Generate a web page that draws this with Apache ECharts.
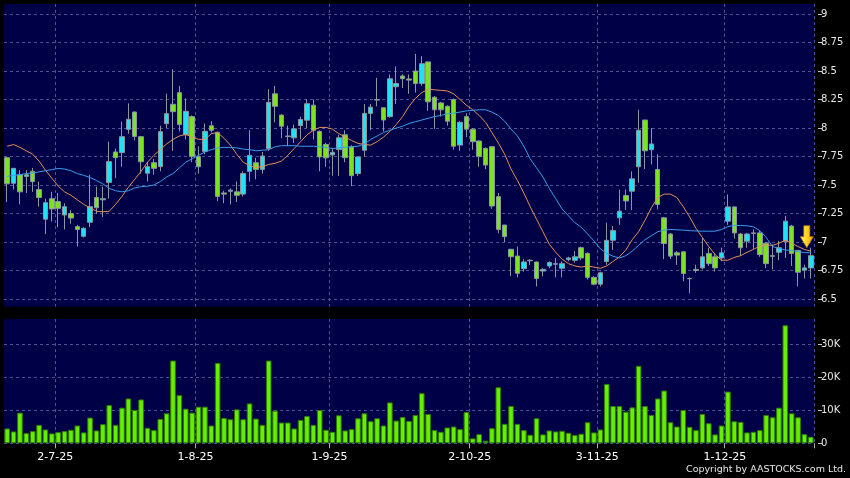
<!DOCTYPE html>
<html><head><meta charset="utf-8">
<script src="https://cdn.jsdelivr.net/npm/echarts@6/dist/echarts.min.js"></script>
<style>html,body{margin:0;padding:0;background:#000;}#c{width:850px;height:478px;}</style>
</head><body><div id="c"></div>
<script>
const dates = ['19-6-25','20-6-25','23-6-25','24-6-25','25-6-25','26-6-25','27-6-25','30-6-25',
'2-7-25','3-7-25','4-7-25','7-7-25','8-7-25','9-7-25','10-7-25','11-7-25','14-7-25','15-7-25','16-7-25','17-7-25','18-7-25','21-7-25','22-7-25','23-7-25','24-7-25','25-7-25','28-7-25','29-7-25','30-7-25','31-7-25',
'1-8-25','4-8-25','5-8-25','6-8-25','7-8-25','8-8-25','11-8-25','12-8-25','13-8-25','14-8-25','15-8-25','18-8-25','19-8-25','20-8-25','21-8-25','22-8-25','25-8-25','26-8-25','27-8-25','28-8-25','29-8-25',
'1-9-25','2-9-25','3-9-25','4-9-25','5-9-25','8-9-25','9-9-25','10-9-25','11-9-25','12-9-25','15-9-25','16-9-25','17-9-25','18-9-25','19-9-25','22-9-25','23-9-25','24-9-25','25-9-25','26-9-25','29-9-25','30-9-25',
'2-10-25','3-10-25','6-10-25','8-10-25','9-10-25','10-10-25','13-10-25','14-10-25','15-10-25','16-10-25','17-10-25','20-10-25','21-10-25','22-10-25','23-10-25','24-10-25','27-10-25','28-10-25','30-10-25','31-10-25',
'3-11-25','4-11-25','5-11-25','6-11-25','7-11-25','10-11-25','11-11-25','12-11-25','13-11-25','14-11-25','17-11-25','18-11-25','19-11-25','20-11-25','21-11-25','24-11-25','25-11-25','26-11-25','27-11-25','28-11-25',
'1-12-25','2-12-25','3-12-25','4-12-25','5-12-25','8-12-25','9-12-25','10-12-25','11-12-25','12-12-25','15-12-25','16-12-25','17-12-25','18-12-25'];

const tickLabels = ['2-7-25','1-8-25','1-9-25','2-10-25','3-11-25','1-12-25'];
const priceTicks = [6.5,6.75,7,7.25,7.5,7.75,8,8.25,8.5,8.75,9];
const volTicks = [0,10,20,30];

const opens = [7.74,7.515,7.59,7.575,7.62,7.46,7.20,7.38,7.355,7.237,7.25,7.135,7.05,7.173,7.39,7.37,7.523,7.79,7.784,7.988,
8.14,7.924,7.603,7.696,7.661,8.038,8.208,8.31,7.94,8.10,7.749,7.795,8.02,7.962,7.43,7.445,7.44,7.42,7.62,7.695,
7.637,7.82,8.30,8.113,7.93,7.914,8.022,8.069,8.20,7.97,7.855,7.764,7.811,7.94,7.834,7.60,7.805,8.128,8.25,8.177,
8.10,8.362,8.456,8.43,8.50,8.39,8.58,8.27,8.22,8.19,8.25,7.85,8.10,7.99,7.886,7.82,7.836,7.398,7.149,6.936,
6.877,6.766,6.84,6.825,6.745,6.79,6.805,6.77,6.845,6.84,6.95,6.90,6.69,6.63,6.83,7.015,7.212,7.408,7.446,7.66,
8.07,7.81,7.636,7.212,7.07,6.905,6.914,6.68,6.76,6.773,6.90,6.87,6.86,7.183,7.308,7.07,7.007,7.08,7.08,6.99,
6.88,6.91,7.007,7.14,6.926,6.753,6.773];
const closes = [7.51,7.646,7.44,7.59,7.53,7.39,7.345,7.29,7.295,7.31,7.21,7.11,7.12,7.31,7.30,7.38,7.705,7.74,7.924,8.076,
7.925,7.704,7.661,7.646,7.968,8.126,8.143,8.03,8.146,7.749,7.66,7.971,7.98,7.40,7.42,7.455,7.41,7.60,7.76,7.637,
7.754,8.225,8.19,8.016,7.925,7.993,8.075,8.213,7.98,7.746,7.738,7.787,7.914,7.74,7.582,7.746,8.128,8.183,8.245,8.07,
8.432,8.39,8.433,8.42,8.39,8.564,8.23,8.16,8.16,8.06,7.84,8.05,7.99,7.88,7.749,7.675,7.316,7.11,7.047,6.871,
6.725,6.825,6.835,6.68,6.76,6.82,6.81,6.81,6.86,6.87,6.86,6.69,6.63,6.73,7.015,7.10,7.27,7.36,7.554,7.98,
7.80,7.86,7.33,6.987,6.876,6.885,6.724,6.678,6.75,6.87,6.81,6.773,6.905,7.308,7.08,6.95,7.07,7.075,6.89,6.81,
6.875,6.95,7.183,6.90,6.735,6.773,6.88];
const lows = [7.35,7.46,7.33,7.43,7.44,7.31,7.07,7.18,7.13,7.11,7.16,6.96,7.04,7.13,7.245,7.22,7.38,7.56,7.66,7.95,
7.89,7.60,7.53,7.59,7.62,8.0,7.80,7.97,7.90,7.70,7.60,7.77,7.96,7.36,7.34,7.33,7.35,7.40,7.53,7.55,
7.60,7.80,8.05,7.91,7.84,7.87,7.90,8.00,7.90,7.62,7.66,7.58,7.58,7.70,7.49,7.58,7.75,7.98,8.19,7.97,
8.09,8.21,8.35,8.30,8.31,8.37,8.15,7.99,8.10,8.02,7.81,7.80,7.92,7.81,7.66,7.64,7.29,7.076,7.0,6.70,
6.69,6.74,6.80,6.61,6.70,6.77,6.69,6.69,6.83,6.82,6.84,6.67,6.62,6.61,6.80,6.93,7.15,7.28,7.28,7.52,
7.64,7.68,7.285,6.85,6.85,6.80,6.656,6.55,6.73,6.76,6.79,6.74,6.83,7.15,7.03,6.876,6.95,6.94,6.87,6.77,
6.76,6.84,6.86,6.79,6.61,6.68,6.68];
const highs = [7.75,7.65,7.63,7.63,7.65,7.53,7.38,7.44,7.43,7.34,7.28,7.15,7.13,7.59,7.485,7.485,7.88,7.82,8.056,8.216,
8.145,7.93,7.70,7.73,8.02,8.30,8.515,8.37,8.26,8.11,7.84,8.04,8.06,7.97,7.45,7.47,7.53,7.62,7.98,7.74,
7.79,8.34,8.37,8.12,8.02,8.03,8.10,8.25,8.25,7.98,7.87,7.82,7.94,7.98,7.85,7.75,8.21,8.21,8.44,8.18,
8.47,8.54,8.47,8.47,8.65,8.63,8.58,8.28,8.23,8.20,8.26,8.06,8.13,8.00,7.89,7.83,7.84,7.43,7.15,6.94,
6.96,6.85,6.85,6.83,6.77,6.83,6.86,6.83,6.87,6.92,6.96,6.91,6.70,6.74,7.17,7.14,7.46,7.46,7.62,8.16,
8.07,8.0,7.77,7.22,7.08,6.92,6.92,6.69,6.80,7.04,6.95,6.90,6.95,7.417,7.31,7.08,7.08,7.11,7.10,7.00,
6.98,7.01,7.23,7.15,6.93,6.80,6.95];
const ma10 = [7.84,7.855,7.83,7.80,7.77,7.71,7.63,7.56,7.49,7.44,7.41,7.37,7.33,7.30,7.27,7.265,7.27,7.33,7.40,7.48,
7.55,7.62,7.70,7.76,7.81,7.86,7.90,7.93,7.945,7.92,7.90,7.90,7.95,7.96,7.91,7.85,7.77,7.70,7.67,7.655,
7.66,7.68,7.69,7.71,7.76,7.82,7.88,7.94,7.98,8.005,8.005,7.99,7.95,7.92,7.89,7.865,7.855,7.85,7.88,7.92,
7.97,8.03,8.10,8.19,8.26,8.31,8.34,8.335,8.33,8.325,8.30,8.25,8.20,8.16,8.11,8.05,7.96,7.87,7.77,7.64,
7.54,7.43,7.31,7.20,7.09,6.98,6.91,6.85,6.81,6.79,6.78,6.79,6.78,6.77,6.79,6.83,6.87,6.93,7.02,7.09,
7.19,7.30,7.39,7.42,7.42,7.39,7.31,7.22,7.12,7.04,6.96,6.89,6.84,6.84,6.865,6.88,6.91,6.935,6.965,6.975,
6.97,6.99,7.015,6.99,6.96,6.935,6.92];
const ma20 = [7.575,7.585,7.59,7.60,7.605,7.615,7.625,7.635,7.645,7.64,7.625,7.60,7.585,7.565,7.54,7.51,7.47,7.45,7.44,7.45,
7.475,7.485,7.49,7.50,7.53,7.57,7.60,7.65,7.70,7.73,7.76,7.79,7.81,7.825,7.83,7.83,7.825,7.815,7.81,7.80,
7.805,7.81,7.835,7.845,7.845,7.845,7.84,7.84,7.84,7.836,7.83,7.82,7.825,7.83,7.835,7.84,7.86,7.90,7.93,7.96,
7.98,8.00,8.015,8.04,8.055,8.07,8.085,8.10,8.11,8.125,8.13,8.14,8.15,8.155,8.16,8.16,8.14,8.11,8.06,7.99,
7.93,7.84,7.73,7.65,7.57,7.47,7.38,7.29,7.23,7.17,7.13,7.07,7.01,6.94,6.90,6.875,6.86,6.88,6.92,6.97,
7.02,7.055,7.09,7.105,7.11,7.107,7.104,7.10,7.097,7.095,7.095,7.095,7.11,7.135,7.145,7.145,7.142,7.133,7.10,7.04,
6.96,6.945,6.93,6.925,6.915,6.908,6.905];
const volumesK = [4.5,3.6,9.3,3.1,3.7,5.6,4.2,3.0,3.4,3.7,4.1,5.4,3.3,7.8,3.9,5.8,11.6,5.6,10.8,13.6,
10.1,13.3,4.7,4.0,7.4,9.1,25.1,14.6,10.5,9.3,11.1,11.1,5.4,24.4,7.7,7.3,10.3,7.3,12.1,7.5,
5.6,25.1,9.9,6.3,6.3,4.5,7.1,8.3,5.6,10.1,4.1,3.5,8.5,3.9,4.3,7.6,9.1,6.7,7.6,5.4,
12.4,6.9,8.0,6.8,8.6,15.2,8.9,4.0,3.5,4.8,5.1,4.3,9.5,1.5,2.8,0.8,4.6,17.0,5.9,11.3,
5.9,4.0,2.6,7.6,2.7,3.9,3.6,3.8,3.2,2.5,2.9,6.4,3.3,4.2,18.0,11.3,11.3,9.6,10.9,23.5,
11.3,8.6,13.6,16.0,6.4,5.1,10.1,5.0,4.0,8.9,6.1,2.7,5.4,15.7,6.7,6.5,3.3,3.5,4.0,8.6,
7.9,10.8,35.8,9.1,7.9,2.8,2.0];

const navy = '#000046';
const gridLine = {color:'#50509a', type:[3,3], width:1};
const isTick = (idx) => tickLabels.indexOf(dates[idx]) >= 0;
const candleData = dates.map((d,i) => [opens[i], closes[i], lows[i], highs[i]]);
const last = dates.length - 1;

const chart = echarts.init(document.getElementById('c'));
chart.setOption({
  backgroundColor:'#000',
  animation:false,
  textStyle:{fontFamily:'DejaVu Sans'},
  grid:[
    {left:4, right:36, top:4, height:302.7, show:true, backgroundColor:navy, borderWidth:0},
    {left:4, right:36, top:319, height:124.3, show:true, backgroundColor:navy, borderWidth:0}
  ],
  xAxis:[
    {type:'category', gridIndex:0, data:dates, boundaryGap:true,
     axisLine:{show:false}, axisTick:{show:false}, axisLabel:{show:false},
     splitLine:{show:true, interval:isTick, lineStyle:gridLine}},
    {type:'category', gridIndex:1, data:dates, boundaryGap:true,
     axisLine:{show:false},
     axisTick:{show:true, interval:isTick, length:5, lineStyle:{color:'#b0b0b0'}},
     axisLabel:{show:true, interval:isTick, color:'#ffffff', fontSize:11, fontFamily:'DejaVu Sans', margin:8, padding:[0,6,0,0]},
     splitLine:{show:true, interval:isTick, lineStyle:gridLine}}
  ],
  yAxis:[
    {type:'value', gridIndex:0, position:'right', min:6.4325, max:9.0877, offset:4,
     axisLine:{show:false},
     axisTick:{show:true, length:4, customValues:priceTicks, lineStyle:{color:'#c8c8c8'}},
     axisLabel:{customValues:priceTicks, color:'#e8e8e8', fontSize:10, fontFamily:'DejaVu Sans', margin:3},
     splitLine:{show:true, lineStyle:gridLine}},
    {type:'value', gridIndex:1, position:'right', min:0, max:37.7, offset:4,
     axisLine:{show:false},
     axisTick:{show:true, length:4, customValues:volTicks, lineStyle:{color:'#c8c8c8'}},
     axisLabel:{customValues:volTicks, color:'#e8e8e8', fontSize:10, fontFamily:'DejaVu Sans', margin:3,
       formatter:(v) => v === 0 ? '0' : v + 'K'},
     splitLine:{show:true, lineStyle:gridLine}}
  ],
  graphic:[
    {type:'text', right:4, top:465, style:{text:'Copyright by AASTOCKS.com Ltd.', fill:'#e8e8e8', font:'9.5px "DejaVu Sans"'}}
  ],
  series:[
    {type:'candlestick', xAxisIndex:0, yAxisIndex:0, data:candleData, barWidth:5,
     itemStyle:{color:'#1fe3f5', color0:'#7be41e', borderColor:'#8a96a0', borderColor0:'#8a96a0', borderWidth:1},
     markPoint:{
       silent:true,
       symbol:'path://M3,0L9,0L9,11L12.5,11L6,22L-0.5,11L3,11Z',
       symbolSize:[13,22], symbolOffset:[-4,-11],
       label:{show:false},
       itemStyle:{color:{type:'linear',x:0,y:0,x2:1,y2:0,colorStops:[{offset:0,color:'#fff47a'},{offset:0.5,color:'#ffd21e'},{offset:1,color:'#f0a000'}]},
                  borderColor:'#c88400', borderWidth:0.6},
       data:[{coord:[dates[last], highs[last]]}]
     }},
    {type:'line', xAxisIndex:0, yAxisIndex:0, data:ma10, symbol:'none', lineStyle:{color:'#e2905a', width:1}, z:3},
    {type:'line', xAxisIndex:0, yAxisIndex:0, data:ma20, symbol:'none', lineStyle:{color:'#3a9ce8', width:1}, z:3},
    {type:'bar', xAxisIndex:1, yAxisIndex:1, data:volumesK, barCategoryGap:'12%',
     itemStyle:{color:'#66ee00', borderColor:'#2e7a00', borderWidth:1}}
  ]
});
</script>
</body></html>
